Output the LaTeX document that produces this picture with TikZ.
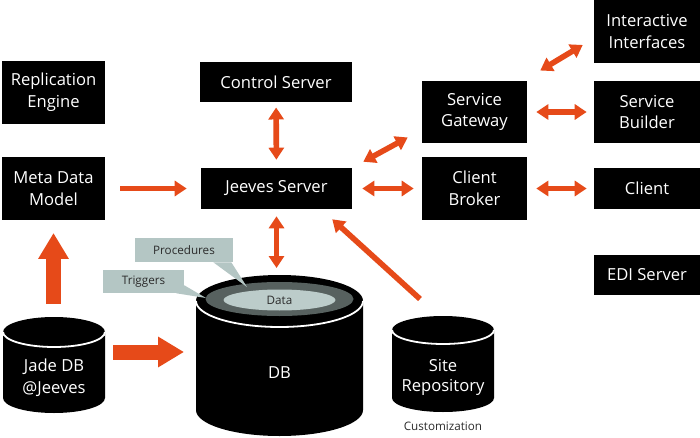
\documentclass[tikz,border=0pt]{standalone}
\usepackage{fontspec}
\setmainfont{Open Sans}
\usetikzlibrary{positioning,arrows.meta,calc}
\definecolor{jorange}{HTML}{E64A19}
\definecolor{callc}{HTML}{B4C6C4}
\definecolor{ringc}{HTML}{57615F}
\definecolor{datac}{HTML}{BCCCCA}
\definecolor{inkc}{HTML}{2B2B2B}

\begin{document}
\begin{tikzpicture}[
  x=0.25mm, y=0.25mm,
  every node/.style={font=\fontsize{11.8}{15.4}\selectfont},
  box/.style={rectangle, fill=black, text=white, align=center, inner sep=0pt},
  sqbox/.style={box, minimum width=26.25mm, minimum height=15.6mm},
  slimbox/.style={box, minimum width=26.5mm, minimum height=10.2mm},
  callout/.style={rectangle, fill=callc, text=inkc, inner sep=0pt,
    font=\fontsize{8.3}{10}\selectfont},
  small/.style={font=\fontsize{8.3}{10}\selectfont, text=inkc},
  link/.style={<->, >={Triangle[length=3mm,width=3.75mm]}, draw=jorange, line width=1.4mm},
  feed/.style={link, ->},
  fat/.style={-{Triangle[length=6.5mm,width=7.25mm]}, draw=jorange, line width=3.75mm},
  rim/.style={draw=white, line width=0.45mm}
]
\useasboundingbox (0,0) rectangle (700,437);
\fill[white] (0,0) rectangle (700,437);

% Boxes
\node[sqbox, minimum width=25.75mm] (repl) at (53.5,344.5) {Replication\\Engine};
\node[sqbox, minimum width=25.75mm] (meta) at (53.5,248.5) {Meta Data\\Model};
\node[box, minimum width=38mm, minimum height=10.1mm] (control) at (276,355) {Control Server};
\node[box, minimum width=37.75mm, minimum height=10.25mm] (jeeves) at (276.5,248.5) {Jeeves Server};
\node[sqbox] (gateway) at (474.5,325) {Service\\Gateway};
\node[sqbox, minimum height=15.75mm] (broker) at (474.5,248.5) {Client\\Broker};
\node[sqbox, minimum width=26.5mm] (interactive) at (647,405.5) {Interactive\\Interfaces};
\node[sqbox, minimum width=26.5mm] (builder) at (647,325) {Service\\Builder};
\node[slimbox] (client) at (647,248.5) {Client};
\node[slimbox, minimum height=10mm] (edi) at (647,162) {EDI Server};

% Jade DB cylinder
\fill (3,105) -- (3,39) arc[start angle=180,end angle=360,x radius=51,y radius=15]
  -- (105,105) arc[start angle=0,end angle=180,x radius=51,y radius=15] -- cycle;
\draw[rim] (3,105) arc[start angle=180,end angle=360,x radius=51,y radius=15];
\node[text=white, align=center] (jade) at (54,59) {Jade DB\\@Jeeves};
\coordinate (jadetop) at (54,120);
\coordinate (jaderight) at (105,85);

% DB cylinder
\fill (196,136) -- (196,27) arc[start angle=180,end angle=360,x radius=83.5,y radius=26]
  -- (363,136) arc[start angle=0,end angle=180,x radius=83.5,y radius=26] -- cycle;
\draw[rim] (196,136) arc[start angle=180,end angle=360,x radius=83.5,y radius=26];
\fill[ringc] (279.5,138) ellipse[x radius=74, y radius=17];
\fill[datac] (279.5,137) ellipse[x radius=56, y radius=10.5];
\node[small] (data) at (279.5,137) {Data};
\node[text=white] (db) at (279.5,64) {DB};
\coordinate (dbtop) at (279.5,162);
\coordinate (dbleft) at (196,85);

% Site repository cylinder
\fill (392,107) -- (392,39) arc[start angle=180,end angle=360,x radius=51,y radius=14]
  -- (494,107) arc[start angle=0,end angle=180,x radius=51,y radius=14] -- cycle;
\draw[rim] (392,107) arc[start angle=180,end angle=360,x radius=51,y radius=14];
\node[text=white, align=center, font=\fontsize{11.8}{14}\selectfont] (site) at (443,59.5) {Site\\Repository};
\node[small] (custom) at (443,11) {Customization};
\coordinate (sitetop) at (443,121);

% Callouts
\node[callout, minimum width=24.5mm, minimum height=6mm] (proc) at (184,187) {Procedures};
\node[callout, minimum width=20.25mm, minimum height=5.75mm] (trig) at (143.5,155.5) {Triggers};
\coordinate (proctip) at (247,150);
\coordinate (trigtip) at (206,139);
\fill[callc] ($(proc.south east)+(-20,0)$) -- (proctip) -- ($(proc.south east)+(-2,0)$) -- cycle;
\fill[callc] ($(trig.south east)+(0,8)$) -- (trigtip) -- ($(trig.south east)+(-8,0)$) -- cycle;

% Arrows
\draw[link, shorten <=1.25mm, shorten >=2mm] (control) -- (jeeves);
\draw[link, shorten <=1.75mm, shorten >=1.75mm] (jeeves.south) -- (jeeves.south |- dbtop);
\draw[feed, shorten <=3.75mm, shorten >=3.5mm] (meta) -- (jeeves);
\draw[link, shorten <=2.5mm, shorten >=2mm] (jeeves) -- (broker);
\draw[link] ($(jeeves.north east)+(11,6)$) -- ($(gateway.south west)+(-14,6)$);
\draw[link, shorten <=2.25mm, shorten >=1.75mm] (gateway) -- (builder);
\draw[link, shorten <=2.25mm, shorten >=1.75mm] (broker) -- (client);
\draw[link] ($(gateway.north east)+(13,10)$) -- ($(interactive.south west)+(-11,18)$);
\draw[feed] ($(sitetop)+(-23,17)$) -- ($(jeeves.south east)+(-20,-10)$);
\draw[fat, shorten <=3.25mm, shorten >=3.25mm] (meta.south |- jadetop) -- (meta.south);
\draw[fat, shorten <=2mm, shorten >=3mm] (jaderight) -- (dbleft);

\end{tikzpicture}
\end{document}
